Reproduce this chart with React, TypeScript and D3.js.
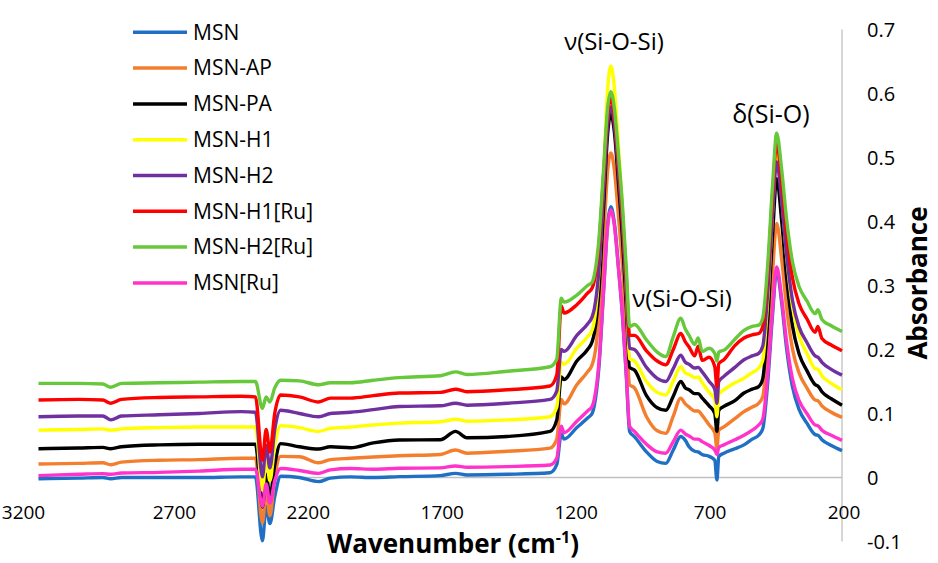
import React from 'react';
import * as d3 from 'd3';

const width = 938;
const height = 563;

// wavenumbers (cm-1) of the sampled points, high to low
const wavenumbers = [3200, 3050, 2960, 2930, 2890, 2750, 2600, 2443, 2390, 2364,
  2350, 2336, 2318, 2296, 2226, 2154, 2110, 2035, 1950, 1853,
  1700, 1643, 1600, 1450, 1290, 1265, 1248, 1238, 1190, 1150,
  1133, 1125, 1108, 1090, 1075, 1063, 1050, 1035, 1020, 1005,
  993, 975, 930, 890, 858, 830, 802, 785, 771, 750,
  737, 722, 696, 675, 667, 660, 641, 600, 566, 535,
  511, 496, 478, 459, 444, 425, 407, 385, 360, 331,
  300, 290, 275, 240, 200];

const msn = [-0.002, -0.001, 0.000, -0.002, 0.000, 0.000, 0.000, 0.001, 0.001, -0.099,
  -0.045, -0.072, -0.030, 0.002, 0.000, -0.0065, -0.001, 0.001, 0.000, 0.0013,
  0.003, 0.0065, 0.004, 0.005, 0.0075, 0.020, 0.068, 0.060, 0.078, 0.093,
  0.100, 0.112, 0.170, 0.292, 0.396, 0.423, 0.398, 0.330, 0.255, 0.156,
  0.072, 0.064, 0.040, 0.025, 0.022, 0.043, 0.064, 0.058, 0.048, 0.041,
  0.040, 0.036, 0.033, 0.027, -0.004, 0.033, 0.038, 0.045, 0.051, 0.060,
  0.066, 0.076, 0.145, 0.256, 0.324, 0.272, 0.202, 0.142, 0.106, 0.085,
  0.067, 0.066, 0.059, 0.050, 0.042];

const msnAP = [0.021, 0.022, 0.023, 0.020, 0.024, 0.027, 0.028, 0.030, 0.030, -0.071,
  -0.020, -0.060, 0.000, 0.033, 0.0325, 0.023, 0.028, 0.030, 0.032, 0.034,
  0.036, 0.043, 0.038, 0.041, 0.046, 0.060, 0.122, 0.115, 0.145, 0.165,
  0.176, 0.188, 0.247, 0.373, 0.479, 0.507, 0.481, 0.410, 0.331, 0.228,
  0.145, 0.140, 0.095, 0.073, 0.069, 0.096, 0.124, 0.115, 0.110, 0.104,
  0.104, 0.097, 0.082, 0.070, 0.046, 0.074, 0.079, 0.092, 0.103, 0.110,
  0.116, 0.126, 0.201, 0.322, 0.397, 0.340, 0.266, 0.201, 0.163, 0.140,
  0.121, 0.120, 0.112, 0.102, 0.094];

const msnPA = [0.045, 0.046, 0.047, 0.045, 0.048, 0.051, 0.052, 0.052, 0.052, -0.046,
  0.005, -0.030, 0.020, 0.053, 0.048, 0.0445, 0.048, 0.0465, 0.054, 0.0586,
  0.059, 0.072, 0.062, 0.064, 0.072, 0.090, 0.157, 0.153, 0.182, 0.200,
  0.212, 0.225, 0.288, 0.423, 0.537, 0.568, 0.540, 0.462, 0.376, 0.264,
  0.172, 0.168, 0.128, 0.109, 0.105, 0.127, 0.150, 0.140, 0.137, 0.131,
  0.131, 0.124, 0.112, 0.100, 0.072, 0.105, 0.111, 0.120, 0.132, 0.138,
  0.142, 0.154, 0.240, 0.380, 0.467, 0.400, 0.313, 0.237, 0.193, 0.167,
  0.145, 0.143, 0.134, 0.123, 0.113];

const msnH1 = [0.074, 0.075, 0.076, 0.074, 0.076, 0.078, 0.079, 0.079, 0.079, -0.020,
  0.030, -0.005, 0.050, 0.081, 0.078, 0.072, 0.077, 0.079, 0.082, 0.085,
  0.087, 0.091, 0.088, 0.090, 0.095, 0.110, 0.180, 0.177, 0.202, 0.220,
  0.230, 0.244, 0.318, 0.475, 0.607, 0.643, 0.610, 0.520, 0.420, 0.291,
  0.186, 0.182, 0.150, 0.133, 0.129, 0.151, 0.173, 0.163, 0.161, 0.156,
  0.157, 0.148, 0.133, 0.122, 0.095, 0.130, 0.137, 0.148, 0.155, 0.164,
  0.171, 0.183, 0.273, 0.418, 0.509, 0.439, 0.347, 0.267, 0.221, 0.194,
  0.170, 0.169, 0.159, 0.147, 0.137];

const msnH2 = [0.095, 0.096, 0.096, 0.090, 0.096, 0.098, 0.100, 0.103, 0.102, 0.001,
  0.050, 0.015, 0.075, 0.105, 0.100, 0.095, 0.100, 0.102, 0.106, 0.111,
  0.112, 0.116, 0.113, 0.116, 0.122, 0.135, 0.200, 0.197, 0.222, 0.240,
  0.251, 0.263, 0.322, 0.446, 0.551, 0.579, 0.552, 0.478, 0.396, 0.289,
  0.202, 0.200, 0.172, 0.155, 0.150, 0.170, 0.191, 0.180, 0.177, 0.171,
  0.172, 0.165, 0.150, 0.138, 0.116, 0.150, 0.158, 0.172, 0.184, 0.190,
  0.194, 0.205, 0.285, 0.413, 0.493, 0.430, 0.349, 0.277, 0.235, 0.211,
  0.190, 0.188, 0.180, 0.169, 0.160];

const msnH1Ru = [0.121, 0.122, 0.121, 0.116, 0.122, 0.125, 0.126, 0.127, 0.126, 0.027,
  0.075, 0.040, 0.100, 0.129, 0.126, 0.118, 0.124, 0.124, 0.128, 0.132,
  0.133, 0.138, 0.134, 0.137, 0.143, 0.160, 0.268, 0.257, 0.270, 0.288,
  0.296, 0.307, 0.360, 0.473, 0.567, 0.592, 0.566, 0.494, 0.413, 0.309,
  0.222, 0.222, 0.198, 0.182, 0.176, 0.200, 0.225, 0.212, 0.204, 0.190,
  0.205, 0.183, 0.188, 0.173, 0.142, 0.178, 0.184, 0.206, 0.218, 0.223,
  0.225, 0.236, 0.315, 0.443, 0.522, 0.461, 0.382, 0.312, 0.271, 0.248,
  0.227, 0.236, 0.217, 0.207, 0.198];

const msnH2Ru = [0.147, 0.147, 0.146, 0.141, 0.147, 0.148, 0.149, 0.150, 0.150, 0.108,
  0.126, 0.118, 0.140, 0.152, 0.151, 0.145, 0.148, 0.148, 0.152, 0.156,
  0.159, 0.165, 0.161, 0.166, 0.173, 0.185, 0.280, 0.274, 0.285, 0.300,
  0.305, 0.316, 0.370, 0.483, 0.578, 0.603, 0.577, 0.506, 0.427, 0.324,
  0.236, 0.239, 0.215, 0.196, 0.189, 0.220, 0.249, 0.232, 0.222, 0.208,
  0.218, 0.197, 0.202, 0.194, 0.182, 0.196, 0.199, 0.216, 0.230, 0.236,
  0.238, 0.249, 0.329, 0.458, 0.538, 0.480, 0.404, 0.337, 0.298, 0.276,
  0.256, 0.262, 0.247, 0.237, 0.228];

const msnRu = [0.003, 0.005, 0.006, 0.005, 0.007, 0.008, 0.010, 0.013, 0.013, -0.045,
  -0.010, -0.040, -0.005, 0.014, 0.011, 0.0065, 0.012, 0.014, 0.013, 0.0144,
  0.015, 0.018, 0.016, 0.017, 0.0195, 0.030, 0.080, 0.070, 0.088, 0.104,
  0.111, 0.122, 0.177, 0.294, 0.392, 0.418, 0.394, 0.329, 0.256, 0.160,
  0.080, 0.072, 0.052, 0.040, 0.038, 0.056, 0.074, 0.068, 0.065, 0.060,
  0.060, 0.056, 0.050, 0.043, 0.036, 0.047, 0.051, 0.059, 0.066, 0.074,
  0.082, 0.091, 0.158, 0.264, 0.329, 0.279, 0.212, 0.154, 0.120, 0.100,
  0.082, 0.081, 0.074, 0.066, 0.058];

const seriesNames = ['MSN', 'MSN-AP', 'MSN-PA', 'MSN-H1', 'MSN-H2', 'MSN-H1[Ru]', 'MSN-H2[Ru]', 'MSN[Ru]'];
const seriesValues = [msn, msnAP, msnPA, msnH1, msnH2, msnH1Ru, msnH2Ru, msnRu];
const seriesColors = ['#1f6fc5', '#f47e2e', '#000000', '#ffff00', '#7030a0', '#ff0000', '#66c83a', '#ff33cc'];

const xTicks = [3200, 2700, 2200, 1700, 1200, 700, 200];
const yTicks = [-0.1, 0, 0.1, 0.2, 0.3, 0.4, 0.5, 0.6, 0.7];

const font = "'Open Sans', sans-serif";

export default function App() {
  const x = d3.scaleLinear().domain([3200, 200]).range([38.5, 842]);
  const y = d3.scaleLinear().domain([-0.1, 0.7]).range([541.5, 29.5]);

  const line = d3.line<number>()
    .x((d, i) => x(wavenumbers[i]))
    .y(d => y(d))
    .curve(d3.curveMonotoneX);

  return (
    <div style={{ position: 'absolute', left: 0, top: 0 }}>
      <svg width={width} height={height} style={{ display: 'block', background: '#fff' }}>
        {/* axes */}
        <line x1={x(3200)} x2={x(200)} y1={y(0)} y2={y(0)} stroke="#c0c0c0" strokeWidth={1.3} />
        <line x1={x(200)} x2={x(200)} y1={y(0.7)} y2={y(-0.1)} stroke="#c0c0c0" strokeWidth={1.3} />

        {seriesValues.map((vals, i) => (
          <path key={seriesNames[i]} d={line(vals) || ''} fill="none" stroke={seriesColors[i]}
            strokeWidth={3.4} strokeLinejoin="round" />
        ))}

        {xTicks.map((t, i) => (
          <text key={t} x={i === 0 ? x(t) - 15 : x(t) + 2} y={y(0) + 41} textAnchor="middle"
            fontFamily={font} fontSize={19} fill="#000">{t}</text>
        ))}
        {yTicks.map(t => (
          <text key={t} x={867} y={y(t)} dy="0.35em" fontFamily={font} fontSize={20} fill="#000">{String(+t.toFixed(1))}</text>
        ))}

        <text x={453} y={553} textAnchor="middle" fontFamily={font} fontWeight="bold" fontSize={26}>
          Wavenumber (cm<tspan dy={-10} fontSize={16}>-1</tspan><tspan dy={10}>)</tspan>
        </text>
        <text transform="translate(927,283) rotate(-90)" textAnchor="middle" fontFamily={font} fontWeight="bold" fontSize={26}>Absorbance</text>

        {/* legend */}
        {seriesNames.map((n, i) => (
          <g key={n} transform={`translate(133,${32.3 + i * 35.8})`}>
            <line x1={0} x2={54} y1={0} y2={0} stroke={seriesColors[i]} strokeWidth={3.5} />
            <text x={60} y={0} dy="0.35em" fontFamily={font} fontSize={21}>{n}</text>
          </g>
        ))}

        {/* band labels */}
        <text x={614} y={42} dy="0.35em" textAnchor="middle" fontFamily={font} fontSize={24}>ν(Si-O-Si)</text>
        <text x={682} y={299} dy="0.35em" textAnchor="middle" fontFamily={font} fontSize={24}>ν(Si-O-Si)</text>
        <text x={771} y={114} dy="0.35em" textAnchor="middle" fontFamily={font} fontSize={25}>δ(Si-O)</text>
      </svg>
    </div>
  );
}
